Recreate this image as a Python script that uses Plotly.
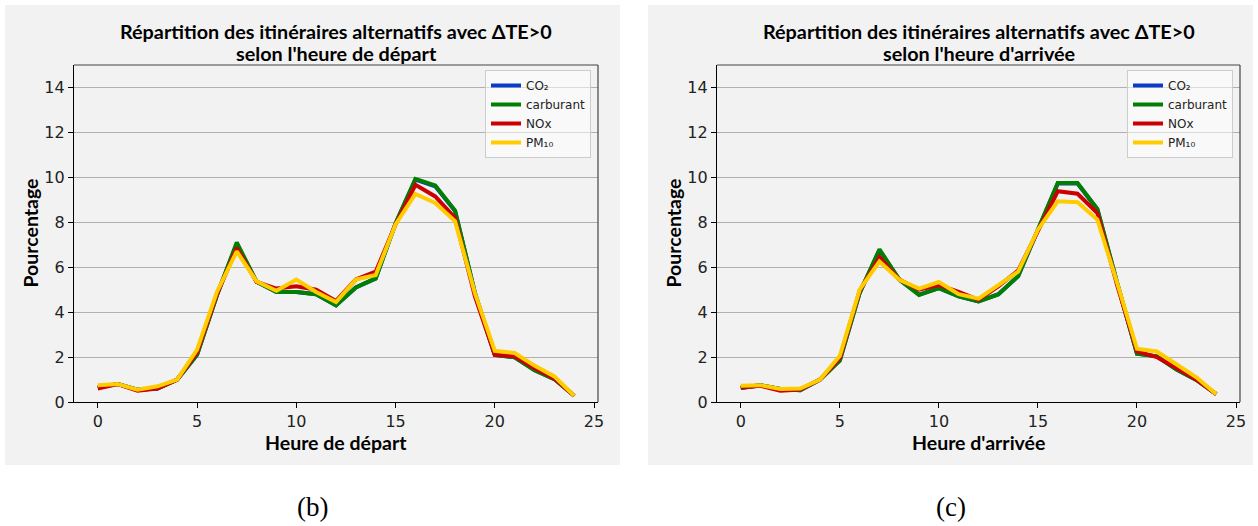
import plotly.graph_objects as go

W, H = 1258, 526

hours = list(range(25))
x_ticks = [0, 5, 10, 15, 20, 25]
y_ticks = [0, 2, 4, 6, 8, 10, 12, 14]

series_names = ["CO₂", "carburant", "NOx", "PM₁₀"]
series_colors = ["#0a3cc8", "#008000", "#cc0000", "#ffcc00"]

# (b) départ
dep_co2 = [0.65, 0.8, 0.55, 0.6, 1.0, 2.1, 4.75, 7.05, 5.35, 4.9, 4.9, 4.8, 4.3, 5.1, 5.5, 7.95, 9.9, 9.6, 8.5, 4.85, 2.1, 1.99, 1.42, 1.02, 0.28]
dep_carb = [0.65, 0.8, 0.55, 0.6, 1.0, 2.1, 4.75, 7.1, 5.35, 4.9, 4.9, 4.8, 4.3, 5.1, 5.5, 7.95, 9.93, 9.64, 8.52, 4.85, 2.1, 1.99, 1.41, 1.02, 0.28]
dep_nox = [0.6, 0.8, 0.5, 0.6, 1.0, 2.2, 4.8, 6.85, 5.35, 5.05, 5.15, 5.0, 4.5, 5.45, 5.8, 7.9, 9.67, 9.15, 8.19, 4.7, 2.1, 2.03, 1.5, 1.05, 0.28]
dep_pm = [0.75, 0.8, 0.55, 0.7, 1.0, 2.33, 4.9, 6.7, 5.37, 4.95, 5.45, 4.9, 4.45, 5.45, 5.65, 7.9, 9.26, 8.86, 8.04, 4.85, 2.28, 2.18, 1.62, 1.14, 0.28]

# (c) arrivée
arr_co2 = [0.62, 0.75, 0.58, 0.52, 1.0, 1.85, 4.85, 6.75, 5.45, 4.78, 5.07, 4.7, 4.48, 4.8, 5.6, 7.67, 9.72, 9.72, 8.57, 5.3, 2.15, 2.03, 1.45, 0.98, 0.35]
arr_carb = [0.62, 0.75, 0.58, 0.52, 1.0, 1.85, 4.85, 6.8, 5.45, 4.76, 5.07, 4.7, 4.48, 4.79, 5.6, 7.67, 9.75, 9.75, 8.59, 5.3, 2.15, 2.03, 1.45, 0.98, 0.35]
arr_nox = [0.65, 0.72, 0.5, 0.55, 1.0, 1.95, 4.95, 6.45, 5.45, 5.0, 5.2, 4.9, 4.55, 5.15, 5.85, 7.6, 9.38, 9.27, 8.41, 5.2, 2.25, 2.0, 1.5, 1.0, 0.35]
arr_pm = [0.72, 0.75, 0.58, 0.6, 1.0, 2.06, 5.0, 6.25, 5.44, 5.05, 5.34, 4.8, 4.6, 5.2, 5.8, 7.67, 8.93, 8.89, 8.12, 5.3, 2.37, 2.25, 1.65, 1.1, 0.35]

title_line1 = "Répartition des itinéraires alternatifs avec ΔTE>0"
title_line2 = ["selon l'heure de départ", "selon l'heure d'arrivée"]
xlabels = ["Heure de départ", "Heure d'arrivée"]
ylabel = "Pourcentage"
captions = ["(b)", "(c)"]

panels = [
    dict(data=[dep_co2, dep_carb, dep_nox, dep_pm], px=(74, 598), bg=(5, 620), xa="x", ya="y", leg="legend"),
    dict(data=[arr_co2, arr_carb, arr_nox, arr_pm], px=(717, 1240), bg=(648, 1253), xa="x2", ya="y2", leg="legend2"),
]
plot_top, plot_bot = 65, 402
BG = "#f2f2f2"
TITLE_FONT = "Lato"

fig = go.Figure()
shapes = []
annotations = []
layout = {}

def px2x(p):
    return p / W

def px2y(p):
    return 1 - p / H

def label(text, x, y, size, family=TITLE_FONT, bold=True, angle=0):
    return dict(text=("<b>%s</b>" % text) if bold else text, x=px2x(x), y=px2y(y),
                xref="paper", yref="paper", xanchor="center", yanchor="middle",
                textangle=angle, showarrow=False,
                font=dict(family=family, size=size, color="black"))

for i, p in enumerate(panels):
    for name, color, vals in zip(series_names, series_colors, p["data"]):
        fig.add_trace(go.Scatter(x=hours, y=vals, mode="lines", name=name,
                                 line=dict(color=color, width=4),
                                 xaxis=p["xa"], yaxis=p["ya"], legend=p["leg"]))
    sfx = "" if i == 0 else str(i + 1)
    x0, x1 = p["px"]
    tickfont = dict(family="DejaVu Sans", size=16, color="#222")
    layout["xaxis" + sfx] = dict(
        domain=[px2x(x0), px2x(x1)], range=[-1.2, 25.2], tickvals=x_ticks,
        showgrid=False, zeroline=False, showline=True, linecolor="black", linewidth=1.2,
        ticks="outside", ticklen=5, tickcolor="black", tickfont=tickfont,
        anchor="y" + sfx, fixedrange=True)
    layout["yaxis" + sfx] = dict(
        domain=[px2y(plot_bot), px2y(plot_top)], range=[0, 15], tickvals=y_ticks,
        showgrid=True, gridcolor="#b0b0b0", gridwidth=1, zeroline=False,
        showline=True, linecolor="black", linewidth=1.2,
        ticks="outside", ticklen=5, tickcolor="black", tickfont=tickfont,
        anchor="x" + sfx, fixedrange=True)
    bx0, bx1 = p["bg"]
    shapes.append(dict(type="rect", xref="paper", yref="paper", x0=px2x(bx0), x1=px2x(bx1),
                       y0=px2y(465), y1=px2y(5), fillcolor=BG, line=dict(width=0), layer="below"))
    xd, yd = p["xa"] + " domain", p["ya"] + " domain"
    shapes.append(dict(type="line", xref=xd, yref=yd, x0=0, x1=1, y0=1, y1=1,
                       line=dict(color="#444", width=1.2)))
    shapes.append(dict(type="line", xref=xd, yref=yd, x0=1, x1=1, y0=0, y1=1,
                       line=dict(color="#444", width=1.2)))
    cx = (x0 + x1) / 2
    annotations.append(label(title_line1, cx, 31, 19.8))
    annotations.append(label(title_line2[i], cx, 53, 19.8))
    annotations.append(label(xlabels[i], cx, 442, 19.5))
    annotations.append(label(ylabel, x0 - 44, 233.5, 19.5, angle=-90))
    annotations.append(label(captions[i], (bx0 + bx1) / 2, 507, 27,
                             family="Liberation Serif", bold=False))
    layout[p["leg"]] = dict(x=px2x(x1 - 7), xanchor="right", y=px2y(70), yanchor="top",
                            bgcolor="rgba(255,255,255,0.55)", bordercolor="#cccccc", borderwidth=1,
                            font=dict(family="DejaVu Sans", size=12, color="#222"),
                            tracegroupgap=0)

fig.update_layout(
    autosize=True, margin=dict(l=0, r=0, t=0, b=0, pad=0, autoexpand=False),
    paper_bgcolor="white", plot_bgcolor=BG,
    shapes=shapes, annotations=annotations, showlegend=True,
    **layout,
)

fig.write_html(
    "out.html", config={"displayModeBar": False},
    default_width="100vw", default_height="100vh",
    post_script=(
        "document.documentElement.style.margin='0';"
        "document.documentElement.style.overflow='hidden';"
        "document.body.style.margin='0';document.body.style.padding='0';"
        "document.body.style.overflow='hidden';"
    ),
)
